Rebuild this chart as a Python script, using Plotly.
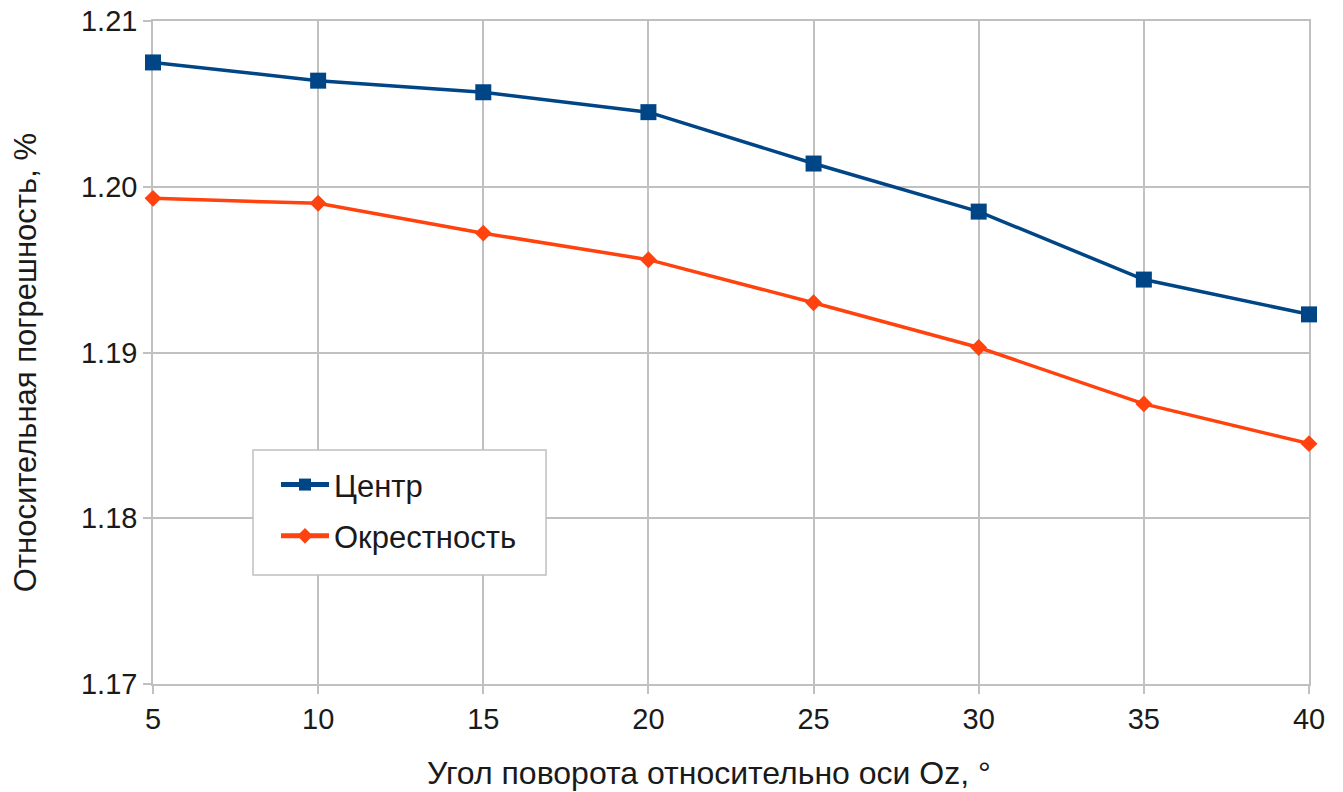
import plotly.graph_objects as go

# Rotation angle about Oz, degrees
angles = [5, 10, 15, 20, 25, 30, 35, 40]

# Relative error, %
center = [1.2075, 1.2064, 1.2057, 1.2045, 1.2014, 1.1985, 1.1944, 1.1923]
neighborhood = [1.1993, 1.1990, 1.1972, 1.1956, 1.1930, 1.1903, 1.1869, 1.1845]

y_ticks = [1.17, 1.18, 1.19, 1.20, 1.21]
y_tick_labels = ["1.17", "1.18", "1.19", "1.20", "1.21"]

x_title = "Угол поворота относительно оси Oz, °"
y_title = "Относительная погрешность, %"

BLUE = "#004586"
ORANGE = "#ff420e"
GRID = "#c0c0c0"
TEXT = "#1a1a1a"
FONT = "Liberation Sans, Arial, sans-serif"

fig = go.Figure()
fig.add_trace(go.Scatter(
    x=angles, y=center, name="Центр", mode="lines+markers",
    legendgroup="center", cliponaxis=False,
    line=dict(color=BLUE, width=3.5),
    marker=dict(symbol="square", size=16, color=BLUE),
))
fig.add_trace(go.Scatter(
    x=angles, y=neighborhood, name="Окрестность", mode="lines+markers",
    legendgroup="neighborhood", cliponaxis=False,
    line=dict(color=ORANGE, width=3.5),
    marker=dict(symbol="diamond", size=13, color=ORANGE),
))

# Framed legend box
fig.add_shape(
    type="rect", xref="paper", yref="paper",
    x0=0.0865, x1=0.340, y0=0.1644, y1=0.353,
    fillcolor="white", line=dict(color=GRID, width=1.5), layer="above",
)

# Axis titles
fig.add_annotation(
    text=x_title, xref="paper", yref="paper", x=0.481, y=-0.134,
    xanchor="center", yanchor="middle", showarrow=False,
    font=dict(size=32, color=TEXT),
)
fig.add_annotation(
    text=y_title, xref="paper", yref="paper", x=-0.110, y=0.485,
    xanchor="center", yanchor="middle", showarrow=False, textangle=-90,
    font=dict(size=31, color=TEXT),
)

fig.update_layout(
    width=1343, height=792,
    margin=dict(l=153, r=34, t=21, b=108),
    paper_bgcolor="white", plot_bgcolor="white",
    font=dict(family=FONT, size=29, color=TEXT),
    showlegend=True,
    legend=dict(
        x=0.1064, y=0.341, xanchor="left", yanchor="top",
        bgcolor="rgba(0,0,0,0)", borderwidth=0,
        font=dict(size=31, color=TEXT),
        itemsizing="constant", itemwidth=48,
        traceorder="grouped", tracegroupgap=8,
    ),
    xaxis=dict(
        range=[5, 40], tickmode="array", tickvals=angles,
        tickfont=dict(size=29), automargin=False, layer="below traces",
        showgrid=True, gridcolor=GRID, gridwidth=1.5,
        showline=True, linecolor=GRID, linewidth=1.5, mirror=True,
        ticks="outside", ticklen=8, tickcolor=GRID, tickwidth=1.5,
        zeroline=False,
    ),
    yaxis=dict(
        range=[1.17, 1.21], tickmode="array", tickvals=y_ticks,
        ticktext=y_tick_labels, tickfont=dict(size=29), automargin=False,
        layer="below traces",
        showgrid=True, gridcolor=GRID, gridwidth=1.5,
        showline=True, linecolor=GRID, linewidth=1.5, mirror=True,
        ticks="outside", ticklen=8, tickcolor=GRID, tickwidth=1.5,
        zeroline=False,
    ),
)

fig.write_html("out.html")
